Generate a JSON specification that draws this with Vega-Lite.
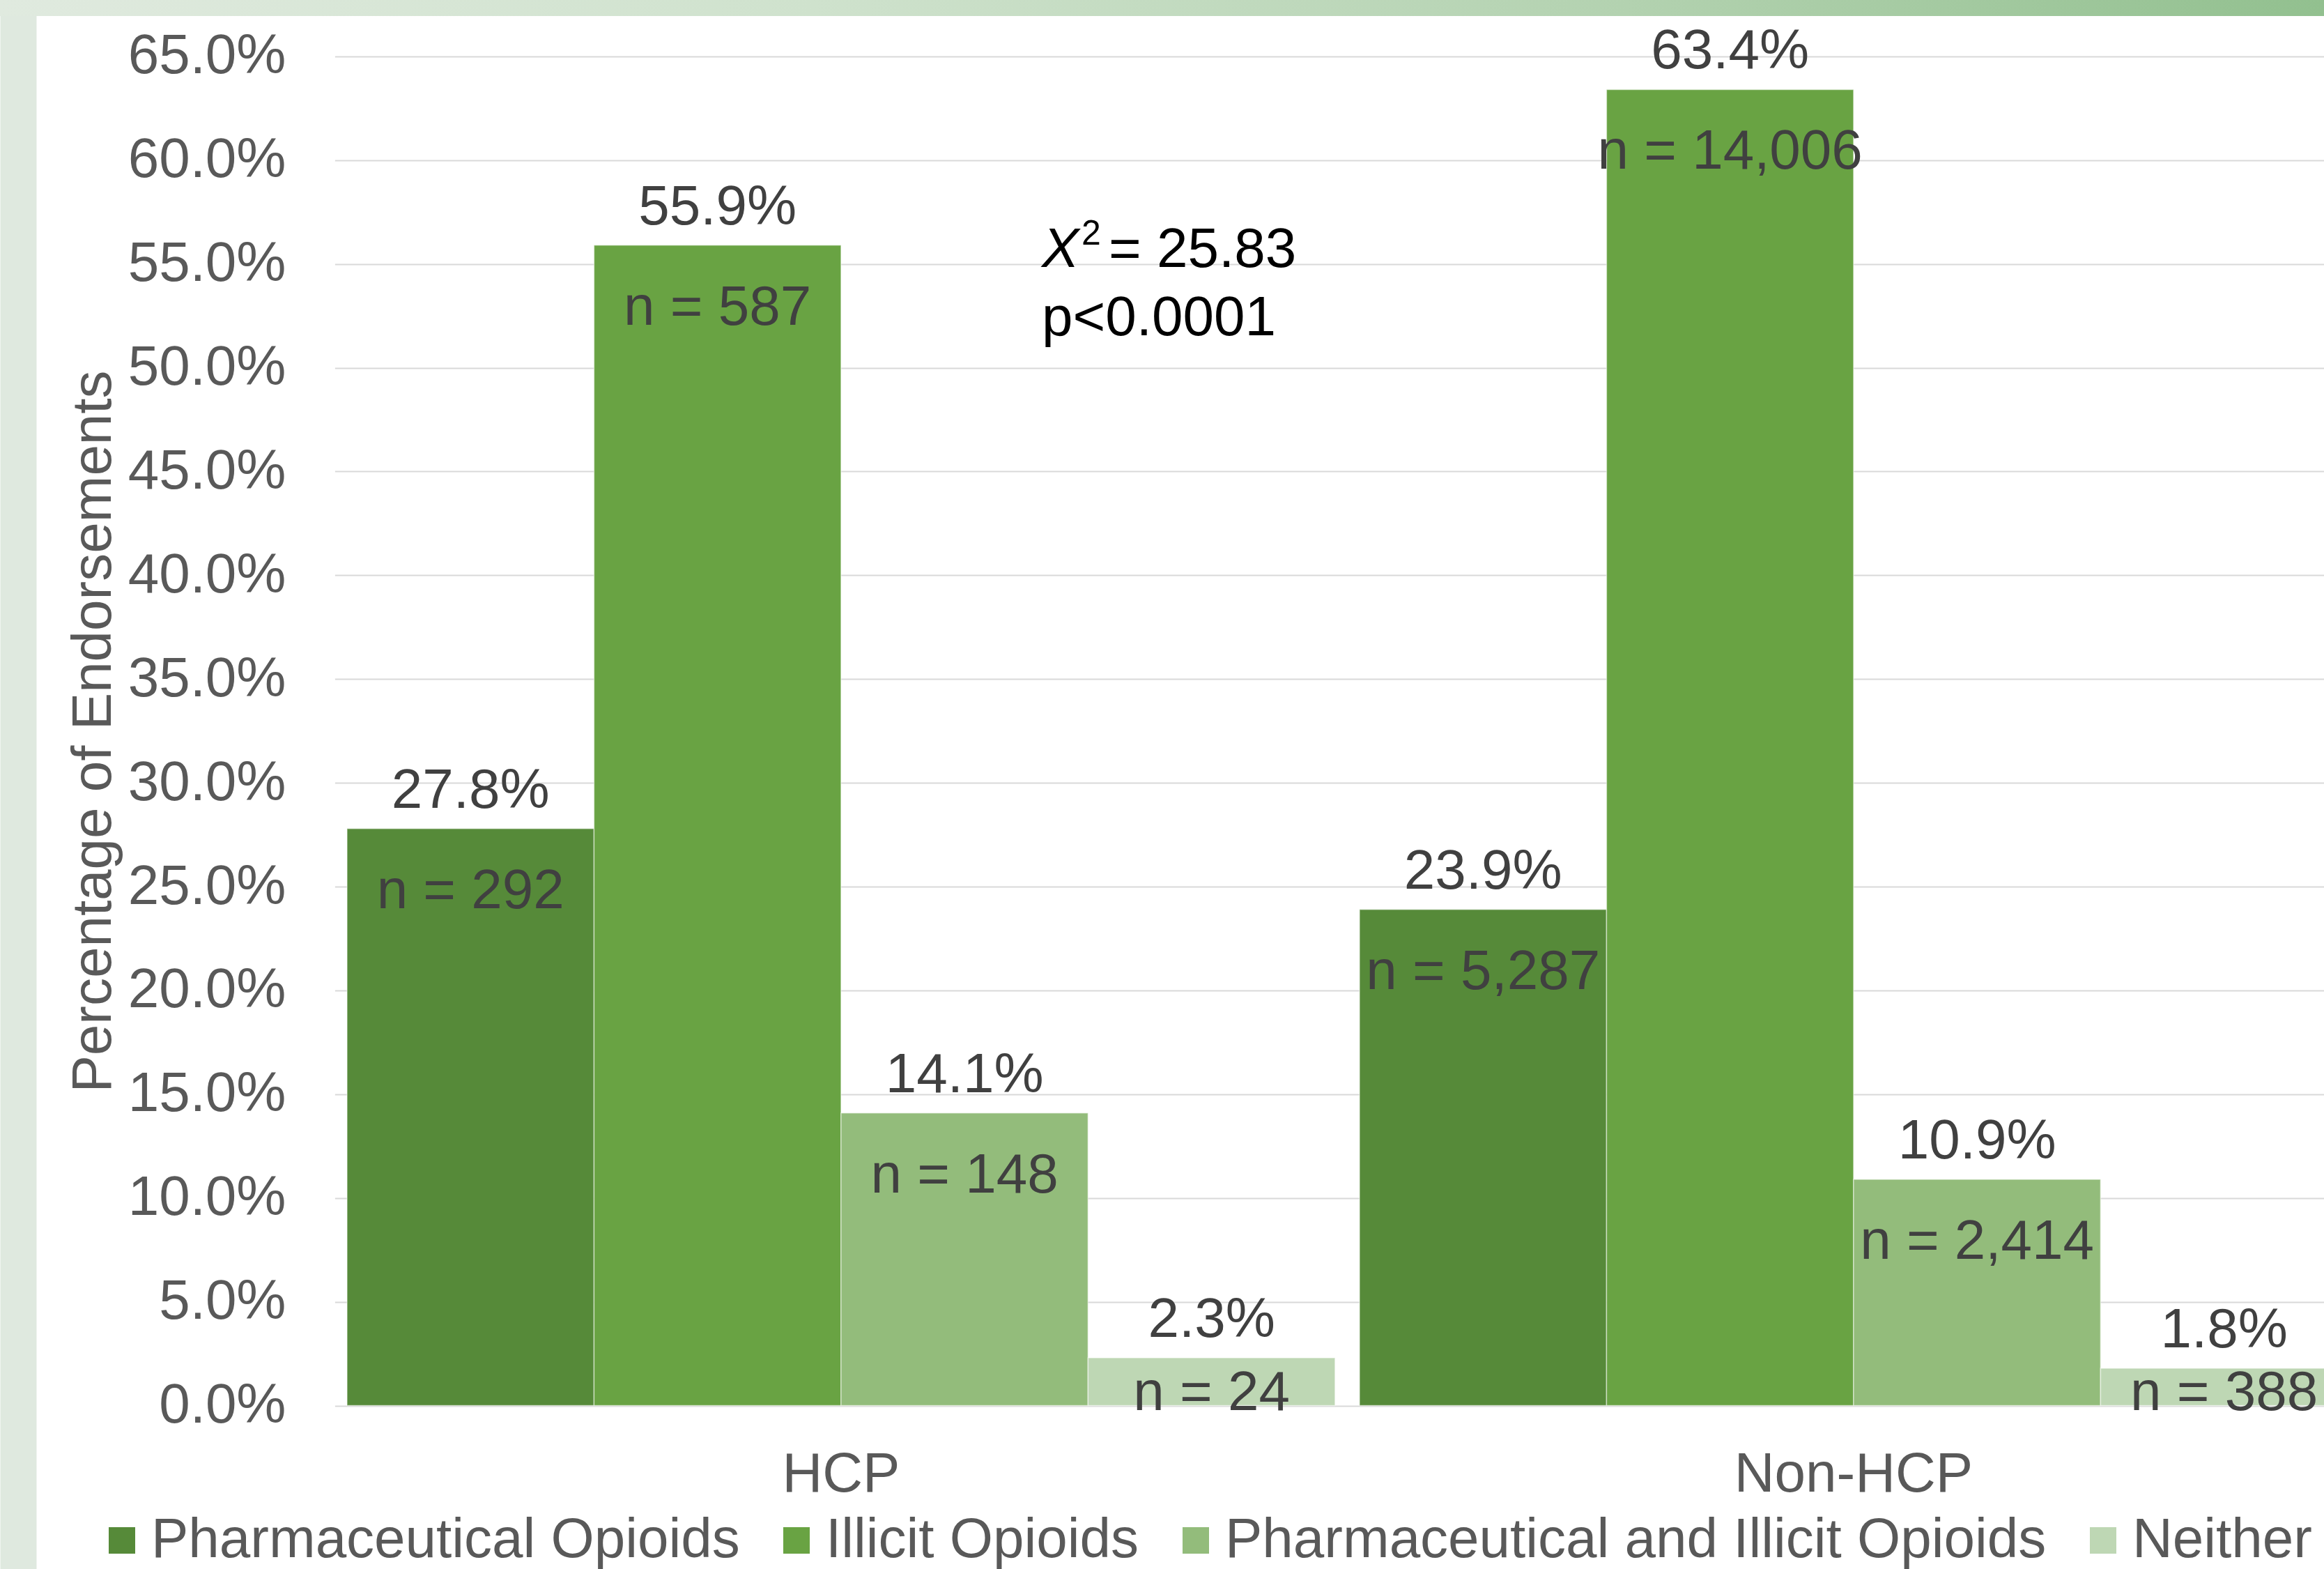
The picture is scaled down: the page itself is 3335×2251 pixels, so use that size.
{
  "$schema": "https://vega.github.io/schema/vega-lite/v6.json",
  "width": 3335,
  "height": 2251,
  "autosize": {"type": "none"},
  "padding": 0,
  "background": "white",
  "config": {
    "view": {"stroke": null},
    "font": "Liberation Sans"
  },
  "datasets": {
    "endorsements": [
      {"group": "HCP", "category": "Pharmaceutical Opioids", "pct": 0.278, "n_label": "n = 292"},
      {"group": "HCP", "category": "Illicit Opioids", "pct": 0.559, "n_label": "n = 587"},
      {"group": "HCP", "category": "Pharmaceutical and Illicit Opioids", "pct": 0.141, "n_label": "n = 148"},
      {"group": "HCP", "category": "Neither", "pct": 0.023, "n_label": "n = 24"},
      {"group": "Non-HCP", "category": "Pharmaceutical Opioids", "pct": 0.239, "n_label": "n = 5,287"},
      {"group": "Non-HCP", "category": "Illicit Opioids", "pct": 0.634, "n_label": "n = 14,006"},
      {"group": "Non-HCP", "category": "Pharmaceutical and Illicit Opioids", "pct": 0.109, "n_label": "n = 2,414"},
      {"group": "Non-HCP", "category": "Neither", "pct": 0.018, "n_label": "n = 388"}
    ]
  },
  "layer": [
    {
      "data": {"values": [{"part": "header band"}]},
      "mark": {
        "type": "rect",
        "fill": {
          "gradient": "linear", "x1": 0, "y1": 0, "x2": 1, "y2": 0,
          "stops": [
            {"offset": 0, "color": "#e0eadf"},
            {"offset": 0.35, "color": "#cfe2cd"},
            {"offset": 0.7, "color": "#b3d2b0"},
            {"offset": 1, "color": "#92c08f"}
          ]
        }
      },
      "encoding": {
        "y": {"datum": 0.6694, "type": "quantitative"},
        "y2": {"datum": 0.67712}
      }
    },
    {
      "data": {"name": "endorsements"},
      "mark": {"type": "bar", "stroke": "white", "strokeWidth": 1.5, "strokeOpacity": 0.5, "clip": true},
      "encoding": {
        "x": {
          "field": "group", "type": "nominal", "sort": ["HCP", "Non-HCP"],
          "scale": {"range": [480.4, 3386.4], "paddingInner": 0.0242, "paddingOuter": 0.0121},
          "axis": {
            "orient": "bottom", "offset": -234, "domain": false, "ticks": false, "tickSize": 0,
            "labelPadding": 122, "labelBaseline": "alphabetic", "labelFontSize": 80,
            "labelColor": "#595959", "labelAngle": 0, "labelLimit": 2000, "title": null, "grid": false
          }
        },
        "xOffset": {
          "field": "category", "type": "nominal",
          "sort": ["Pharmaceutical Opioids", "Illicit Opioids", "Pharmaceutical and Illicit Opioids", "Neither"],
          "scale": {"paddingInner": 0, "paddingOuter": 0}
        },
        "y": {
          "field": "pct", "type": "quantitative",
          "scale": {"domain": [-0.0787, 0.67712], "nice": false, "zero": false},
          "axis": {
            "orient": "left", "offset": -26,
            "values": [0, 0.05, 0.1, 0.15, 0.2, 0.25, 0.3, 0.35, 0.4, 0.45, 0.5, 0.55, 0.6, 0.65],
            "format": ".1%",
            "domain": true, "domainColor": "#dfe9df", "domainWidth": 52, "domainCap": "butt",
            "ticks": false, "tickSize": 0,
            "labelPadding": -384, "labelAlign": "right", "labelFontSize": 80, "labelColor": "#595959",
            "labelLimit": 2000, "labelOverlap": false,
            "grid": true, "gridColor": "#d9d9d9", "gridWidth": 2,
            "title": "Percentage of Endorsements", "titleFontSize": 80, "titleFontWeight": "normal",
            "titleColor": "#595959", "titleX": 108, "titleY": 1049, "titleAngle": -90,
            "titleAlign": "center", "titleBaseline": "middle"
          }
        },
        "y2": {"datum": 0},
        "color": {
          "field": "category", "type": "nominal",
          "sort": ["Pharmaceutical Opioids", "Illicit Opioids", "Pharmaceutical and Illicit Opioids", "Neither"],
          "scale": {
            "domain": ["Pharmaceutical Opioids", "Illicit Opioids", "Pharmaceutical and Illicit Opioids", "Neither"],
            "range": ["#568a39", "#69a343", "#93bc7b", "#bed7b4"]
          },
          "legend": {
            "orient": "none", "legendX": 135, "legendY": 2170, "direction": "horizontal", "columns": 4,
            "title": null, "symbolType": "square", "symbolSize": 1444, "symbolStrokeWidth": 0,
            "labelFontSize": 80, "labelColor": "#595959", "labelOffset": 2, "columnPadding": 41,
            "padding": 0, "labelLimit": 2000
          }
        }
      }
    },
    {
      "data": {"name": "endorsements"},
      "mark": {"type": "text", "fontSize": 80, "color": "#404040", "baseline": "alphabetic", "dy": -30},
      "encoding": {
        "x": {"field": "group", "type": "nominal", "sort": ["HCP", "Non-HCP"]},
        "xOffset": {"field": "category", "type": "nominal", "sort": ["Pharmaceutical Opioids", "Illicit Opioids", "Pharmaceutical and Illicit Opioids", "Neither"]},
        "y": {"field": "pct", "type": "quantitative"},
        "text": {"field": "pct", "type": "quantitative", "format": ".1%"}
      }
    },
    {
      "data": {"name": "endorsements"},
      "transform": [{"filter": "datum.pct > 0.05"}],
      "mark": {"type": "text", "fontSize": 80, "color": "#404040", "baseline": "alphabetic", "dy": 114},
      "encoding": {
        "x": {"field": "group", "type": "nominal", "sort": ["HCP", "Non-HCP"]},
        "xOffset": {"field": "category", "type": "nominal", "sort": ["Pharmaceutical Opioids", "Illicit Opioids", "Pharmaceutical and Illicit Opioids", "Neither"]},
        "y": {"field": "pct", "type": "quantitative"},
        "text": {"field": "n_label", "type": "nominal"}
      }
    },
    {
      "data": {"name": "endorsements"},
      "transform": [{"filter": "datum.pct <= 0.05"}],
      "mark": {"type": "text", "fontSize": 80, "color": "#404040", "baseline": "alphabetic", "dy": 6},
      "encoding": {
        "x": {"field": "group", "type": "nominal", "sort": ["HCP", "Non-HCP"]},
        "xOffset": {"field": "category", "type": "nominal", "sort": ["Pharmaceutical Opioids", "Illicit Opioids", "Pharmaceutical and Illicit Opioids", "Neither"]},
        "y": {"datum": 0, "type": "quantitative"},
        "text": {"field": "n_label", "type": "nominal"}
      }
    },
    {
      "data": {"values": [{"note": "chi-square"}]},
      "mark": {"type": "text", "text": "X", "fontSize": 80, "fontStyle": "italic", "color": "black", "align": "left", "baseline": "alphabetic"},
      "encoding": {
        "x": {"datum": "HCP", "type": "nominal", "bandPosition": 0.7032},
        "y": {"datum": 0.5485, "type": "quantitative"}
      }
    },
    {
      "data": {"values": [{"note": "chi-square"}]},
      "mark": {"type": "text", "text": "2", "fontSize": 50, "color": "black", "align": "left", "baseline": "alphabetic", "dx": 57},
      "encoding": {
        "x": {"datum": "HCP", "type": "nominal", "bandPosition": 0.7032},
        "y": {"datum": 0.5593, "type": "quantitative"}
      }
    },
    {
      "data": {"values": [{"note": "chi-square"}]},
      "mark": {"type": "text", "text": "= 25.83", "fontSize": 80, "color": "black", "align": "left", "baseline": "alphabetic", "dx": 96},
      "encoding": {
        "x": {"datum": "HCP", "type": "nominal", "bandPosition": 0.7032},
        "y": {"datum": 0.5485, "type": "quantitative"}
      }
    },
    {
      "data": {"values": [{"note": "p-value"}]},
      "mark": {"type": "text", "text": "p<0.0001", "fontSize": 80, "color": "black", "align": "left", "baseline": "alphabetic"},
      "encoding": {
        "x": {"datum": "HCP", "type": "nominal", "bandPosition": 0.7032},
        "y": {"datum": 0.5156, "type": "quantitative"}
      }
    }
  ]
}
